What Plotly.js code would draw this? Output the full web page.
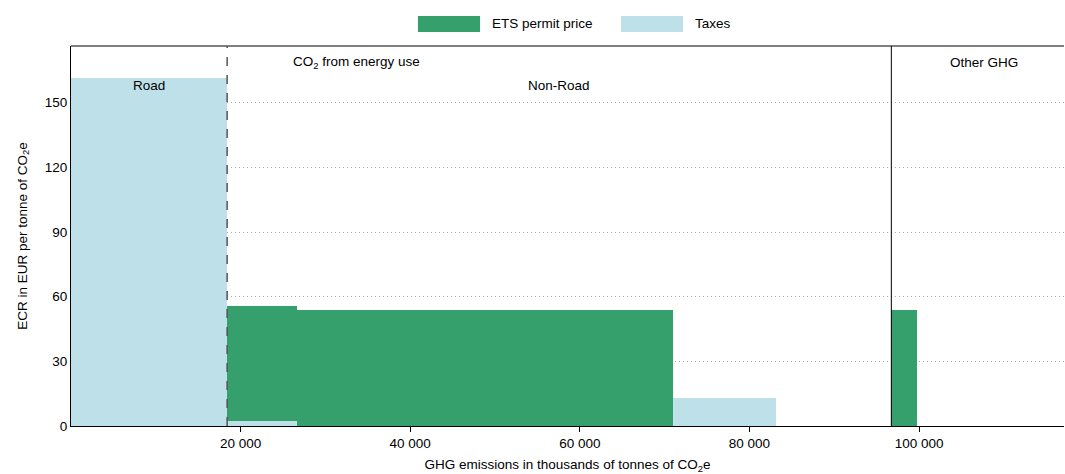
<!DOCTYPE html>
<html>
<head>
<meta charset="utf-8">
<script src="https://cdn.plot.ly/plotly-3.0.1.min.js"></script>
<style>
  html, body { margin: 0; padding: 0; background: #fff; }
  #chart { width: 1065px; height: 474px; }
</style>
</head>
<body>
<div id="chart"></div>
<script>
// Emission segments, in thousands of tonnes of CO2e, in order along the x axis
const segments  = ['Road', 'Non-Road (ETS + taxes)', 'Non-Road (ETS)', 'Non-Road (taxes)', 'Non-Road (unpriced)', 'Other GHG (ETS)', 'Other GHG (unpriced)'];
const emissions = [18410, 8250, 44380, 12110, 13580, 3000, 17360];
// Effective carbon rates, EUR per tonne of CO2e
const taxes     = [161.6, 2.3, 0, 13.2, 0, 0, 0];
const etsPrice  = [0, 53.5, 53.6, 0, 0, 53.6, 0];
// Section boundaries
const roadEnd   = 18410;
const energyEnd = 96730;
const yTicks    = [0, 30, 60, 90, 120, 150];
const xTicks    = [20000, 40000, 60000, 80000, 100000];
const xTickText = ['20 000', '40 000', '60 000', '80 000', '100 000'];

const COLORS = { taxes: '#bee0e8', ets: '#35a06b' };

const starts = [];
let acc = 0;
emissions.forEach(w => { starts.push(acc); acc += w; });
const centers = emissions.map((w, i) => starts[i] + w / 2);
const total = acc;

const FONT = 'Liberation Sans, Arial, sans-serif';
const FS = 13.5;

const traces = [
  {
    type: 'bar', name: 'Taxes', x: centers, y: taxes, width: emissions,
    marker: { color: COLORS.taxes, line: { width: 0 } }, hoverinfo: 'skip'
  },
  {
    type: 'bar', name: 'ETS permit price', x: centers, y: etsPrice, width: emissions,
    marker: { color: COLORS.ets, line: { width: 0 } }, hoverinfo: 'skip'
  }
];

// Legend: wide colour swatches above the plot, drawn in paper coordinates
const legendItems = [
  { label: 'ETS permit price', color: COLORS.ets,   x0: 0.3494, x1: 0.4119, tx: 0.4220 },
  { label: 'Taxes',            color: COLORS.taxes, x0: 0.5539, x1: 0.6163, tx: 0.6264 }
];

const shapes = [
  { type: 'line', xref: 'paper', yref: 'paper', x0: 0, x1: 1, y0: 1, y1: 1, line: { color: '#000', width: 1 } },
  { type: 'line', xref: 'x', yref: 'paper', x0: roadEnd, x1: roadEnd, y0: 0, y1: 1, line: { color: '#555', width: 1.5, dash: 'dash' } },
  { type: 'line', xref: 'x', yref: 'paper', x0: energyEnd, x1: energyEnd, y0: 0, y1: 1, line: { color: '#000', width: 1 } }
];
const annotations = [
  { text: 'Road', x: roadEnd / 2, y: 158, xref: 'x', yref: 'y', showarrow: false, yanchor: 'middle' },
  { text: 'CO<sub>2</sub> from energy use', x: 33660, y: 168.5, xref: 'x', yref: 'y', showarrow: false, yanchor: 'middle' },
  { text: 'Non-Road', x: 57570, y: 158, xref: 'x', yref: 'y', showarrow: false, yanchor: 'middle' },
  { text: 'Other GHG', x: 107690, y: 168.5, xref: 'x', yref: 'y', showarrow: false, yanchor: 'middle' }
];
legendItems.forEach(it => {
  shapes.push({ type: 'rect', xref: 'paper', yref: 'paper', x0: it.x0, x1: it.x1, y0: 1.0368, y1: 1.0789,
                fillcolor: it.color, line: { width: 0 } });
  annotations.push({ text: it.label, xref: 'paper', yref: 'paper', x: it.tx, y: 1.0579,
                     xanchor: 'left', yanchor: 'middle', showarrow: false });
});

const layout = {
  width: 1065, height: 474,
  margin: { l: 71, r: 1, t: 46, b: 48 },
  barmode: 'stack',
  plot_bgcolor: '#fff', paper_bgcolor: '#fff',
  font: { family: FONT, size: FS, color: '#000' },
  showlegend: false,
  xaxis: {
    range: [0, total], tickvals: xTicks, ticktext: xTickText,
    ticks: 'outside', ticklen: 5, tickcolor: '#000',
    showgrid: false, zeroline: false,
    showline: true, linecolor: '#000', linewidth: 1,
    title: { text: 'GHG emissions in thousands of tonnes of CO<sub>2</sub>e', font: { family: FONT, size: FS }, standoff: 10 },
    tickfont: { family: FONT, size: FS }
  },
  yaxis: {
    range: [0, 176.3], tickvals: yTicks,
    showgrid: true, gridcolor: '#a8a8a8', griddash: '1px,3px', gridwidth: 1,
    zeroline: false, showline: true, linecolor: '#000', linewidth: 1,
    ticks: '', ticklen: 0,
    title: { text: 'ECR in EUR per tonne of CO<sub>2</sub>e', font: { family: FONT, size: FS }, standoff: 14 },
    tickfont: { family: FONT, size: FS }
  },
  shapes: shapes,
  annotations: annotations
};

Plotly.newPlot('chart', traces, layout, { staticPlot: true, displayModeBar: false });
</script>
</body>
</html>
